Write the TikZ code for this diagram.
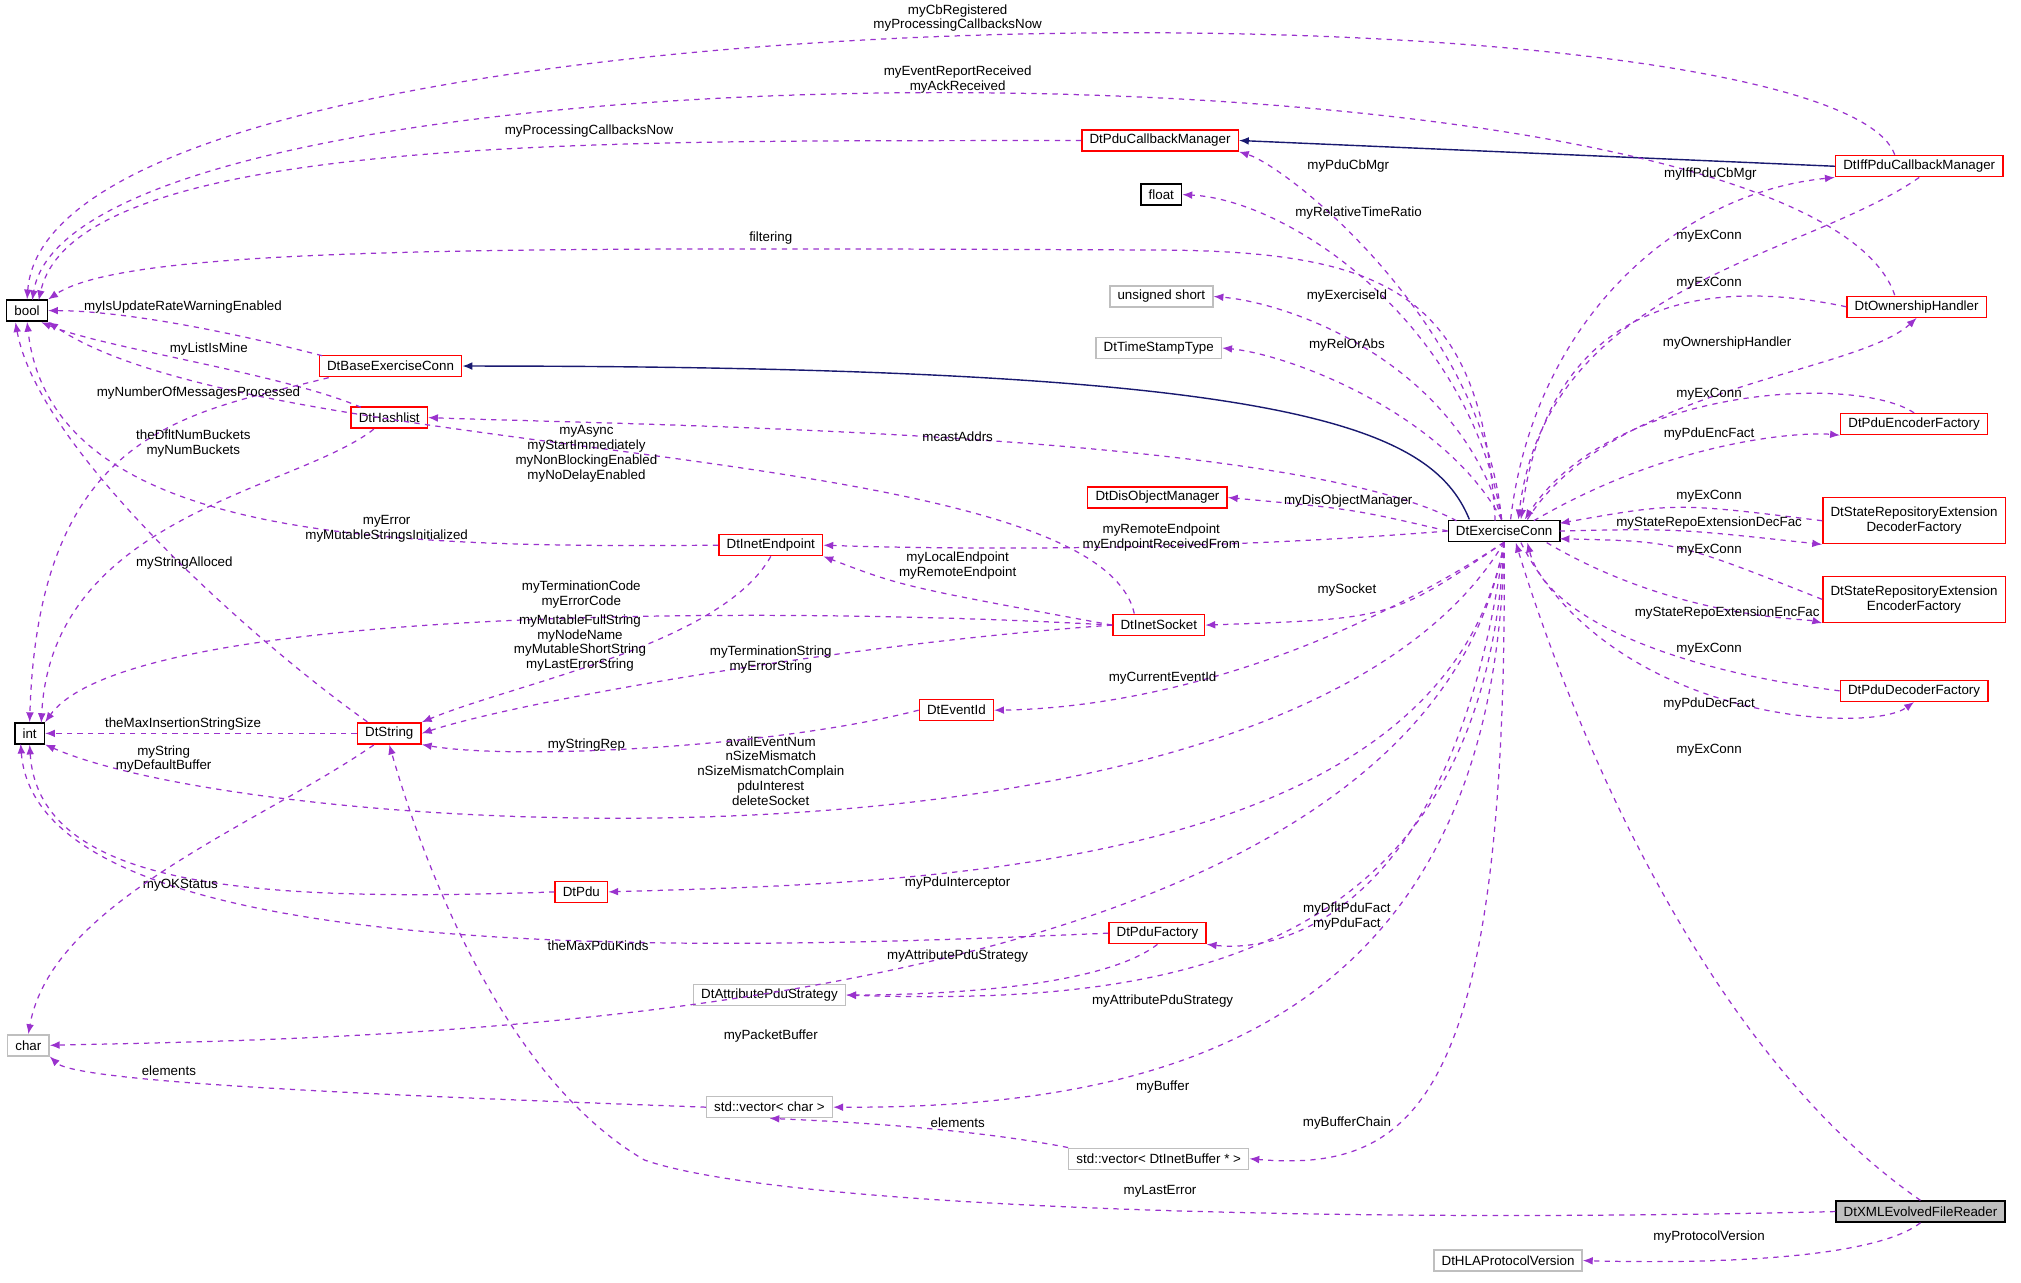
\documentclass[tikz,border=0pt]{standalone}
\usepackage{fontspec}
\setmainfont{Liberation Sans}
\usetikzlibrary{arrows.meta}
\definecolor{edgepurple}{HTML}{9A32CD}
\definecolor{inhnavy}{HTML}{191970}
\definecolor{boxgray}{HTML}{BFBFBF}
\definecolor{readerfill}{HTML}{BFBFBF}
\tikzset{
    % class boxes
    cls/.style={draw=red, fill=white, line width=0.4pt, inner xsep=2.2pt, inner ysep=0pt,
        minimum height=0.21cm, font=\fontsize{3.8}{4.4}\selectfont, align=center},
    cls black/.style={cls, draw=black},
    cls gray/.style={cls, draw=boxgray},
    % connectors
    use/.style={-{Latex[length=2.8pt,width=2.2pt]}, edgepurple, line width=0.35pt,
        dash pattern=on 1.5pt off 1.5pt},
    inherit/.style={-{Latex[length=2.8pt,width=2.2pt]}, inhnavy, line width=0.4pt},
    % edge labels
    lbl/.style={font=\fontsize{3.8}{4.2}\selectfont, align=center, inner sep=0pt},
}
\begin{document}
\begin{tikzpicture}[x=0.01289cm, y=-0.01289cm]
    \useasboundingbox (0,0) rectangle (1568,995);

    % Left column
    \node[cls black] (bool) at (21,241) {bool};
    \node[cls black] (int) at (23,569) {int};
    \node[cls gray] (char) at (22,811) {char};

    % Middle classes
    \node[cls] (pcm) at (900,109) {DtPduCallbackManager};
    \node[cls black] (float) at (901,151) {float};
    \node[cls gray] (ushort) at (901,230) {unsigned short};
    \node[cls gray] (tstamp) at (899,270) {DtTimeStampType};
    \node[cls] (dom) at (898,386) {DtDisObjectManager};
    \node[cls] (bec) at (303,284) {DtBaseExerciseConn};
    \node[cls] (hash) at (302,324) {DtHashlist};
    \node[cls] (endp) at (598,423) {DtInetEndpoint};
    \node[cls] (sock) at (899,485) {DtInetSocket};
    \node[cls] (str) at (302,569) {DtString};
    \node[cls] (evid) at (742,551) {DtEventId};
    \node[cls] (pdu) at (451,692) {DtPdu};
    \node[cls] (pfac) at (898,724) {DtPduFactory};
    \node[cls gray] (attr) at (597,772) {DtAttributePduStrategy};
    \node[cls gray] (vchar) at (597,859) {std::vector< char >};
    \node[cls gray] (vbuf) at (899,899) {std::vector< DtInetBuffer * >};
    \node[cls gray] (hla) at (1170,978) {DtHLAProtocolVersion};
    \node[cls black] (ec) at (1167,412) {DtExerciseConn};

    % Right column
    \node[cls] (iff) at (1489,129) {DtIffPduCallbackManager};
    \node[cls] (own) at (1487,238) {DtOwnershipHandler};
    \node[cls] (penc) at (1485,329) {DtPduEncoderFactory};
    \node[cls, minimum height=0.46cm] (srdec) at (1485,404) {DtStateRepositoryExtension\\DecoderFactory};
    \node[cls, minimum height=0.46cm] (srenc) at (1485,465) {DtStateRepositoryExtension\\EncoderFactory};
    \node[cls] (pdec) at (1485,536) {DtPduDecoderFactory};
    \node[cls black, fill=readerfill] (xml) at (1490,940) {DtXMLEvolvedFileReader};

    % Inheritance
    \draw[inherit] (iff.west) -- (pcm.east);
    \draw[inherit] (1140,403) .. controls (1110,330) and (1000,284) .. (bec.east);

    % Members of bool
    \draw[use] (1470,120) .. controls (1420,-20) and (40,-20) .. (bool.north);
    \draw[use] (1470,229) .. controls (1400,20) and (60,20) .. (25,233);
    \draw[use] (pcm.west) .. controls (500,110) and (60,100) .. (30,233);
    \draw[use] (1160,404) .. controls (1150,230) and (1080,195) .. (900,194)
        .. controls (400,192) and (100,190) .. (bool.north east);
    \draw[use] (250,276) .. controls (150,250) and (80,241) .. (bool.east);
    \draw[use] (280,316) .. controls (220,290) and (80,270) .. (32,250);
    \draw[use] (880,476) .. controls (850,340) and (200,360) .. (bool.south east);
    \draw[use] (endp.west) .. controls (300,425) and (40,420) .. (bool.south);
    \draw[use] (285,560) .. controls (200,500) and (30,350) .. (12,250);
    \node[lbl] at (743,14) {myCbRegistered\\myProcessingCallbacksNow};
    \node[lbl] at (743,62) {myEventReportReceived\\myAckReceived};
    \node[lbl] at (457,102) {myProcessingCallbacksNow};
    \node[lbl] at (598,185) {filtering};
    \node[lbl] at (142,238) {myIsUpdateRateWarningEnabled};
    \node[lbl] at (162,271) {myListIsMine};
    \node[lbl] at (455,352) {myAsync\\myStartImmediately\\myNonBlockingEnabled\\myNoDelayEnabled};
    \node[lbl] at (300,410) {myError\\myMutableStringsInitialized};
    \node[lbl] at (143,437) {myStringAlloced};

    % Members of int
    \draw[use] (255,293) .. controls (150,320) and (30,330) .. (int.north);
    \draw[use] (290,333) .. controls (230,380) and (40,400) .. (32,561);
    \draw[use] (sock.west) .. controls (600,470) and (100,470) .. (int.north east);
    \draw[use] (str.west) -- (int.east);
    \draw[use] (ec.south) .. controls (1000,700) and (200,650) .. (int.south east);
    \draw[use] (pdu.west) .. controls (200,700) and (30,690) .. (int.south);
    \draw[use] (pfac.west) .. controls (600,735) and (30,760) .. (16,577);
    \node[lbl] at (154,305) {myNumberOfMessagesProcessed};
    \node[lbl] at (150,344) {theDfltNumBuckets\\myNumBuckets};
    \node[lbl] at (451,461) {myTerminationCode\\myErrorCode};
    \node[lbl] at (142,562) {theMaxInsertionStringSize};
    \node[lbl] at (598,598) {availEventNum\\nSizeMismatch\\nSizeMismatchComplain\\pduInterest\\deleteSocket};
    \node[lbl] at (140,687) {myOKStatus};
    \node[lbl] at (464,734) {theMaxPduKinds};

    % Members of char
    \draw[use] (290,578) .. controls (200,640) and (40,700) .. (char.north);
    \draw[use] (ec.south) .. controls (1100,800) and (300,805) .. (char.east);
    \draw[use] (vchar.west) .. controls (300,850) and (60,840) .. (char.south east);
    \node[lbl] at (127,589) {myString\\myDefaultBuffer};
    \node[lbl] at (598,804) {myPacketBuffer};
    \node[lbl] at (131,831) {elements};

    % Members of DtString
    \draw[use] (endp.south) .. controls (560,500) and (400,530) .. (str.north east);
    \draw[use] (sock.west) .. controls (650,500) and (400,545) .. (str.east);
    \draw[use] (evid.west) .. controls (600,580) and (400,590) .. (str.south east);
    \draw[use] (xml.west) .. controls (1000,950) and (600,935) .. (500,900)
        .. controls (380,830) and (320,640) .. (str.south);
    \node[lbl] at (450,499) {myMutableFullString\\myNodeName\\myMutableShortString\\myLastErrorString};
    \node[lbl] at (598,512) {myTerminationString\\myErrorString};
    \node[lbl] at (455,578) {myStringRep};
    \node[lbl] at (900,924) {myLastError};

    % Members of DtExerciseConn and others
    \draw[use] (sock.west) .. controls (700,455) .. (endp.south east);
    \draw[use] (ec.west) .. controls (900,430) and (700,425) .. (endp.east);
    \draw[use] (1130,404) .. controls (1000,335) and (500,330) .. (hash.east);
    \draw[use] (1165,403) .. controls (1150,250) and (1000,130) .. (pcm.south east);
    \draw[use] (1165,403) .. controls (1140,250) and (1000,155) .. (float.east);
    \draw[use] (1165,403) .. controls (1130,280) and (1000,235) .. (ushort.east);
    \draw[use] (1165,403) .. controls (1120,320) and (1000,275) .. (tstamp.east);
    \draw[use] (ec.west) .. controls (1050,395) .. (dom.east);
    \draw[use] (ec.south) .. controls (1080,480) .. (sock.east);
    \draw[use] (ec.south) .. controls (1000,530) and (850,550) .. (evid.east);
    \draw[use] (ec.south) .. controls (1120,680) and (700,685) .. (pdu.east);
    \draw[use] (ec.south) .. controls (1130,700) and (1000,740) .. (pfac.south east);
    \draw[use] (pfac.south) .. controls (850,770) and (700,772) .. (attr.east);
    \draw[use] (ec.south) .. controls (1150,750) and (900,780) .. (attr.east);
    \draw[use] (ec.south) .. controls (1160,800) and (900,860) .. (vchar.east);
    \draw[use] (ec.south) .. controls (1170,850) and (1100,910) .. (vbuf.east);
    \draw[use] (vbuf.north west) .. controls (750,875) and (650,870) .. (vchar.south);
    \node[lbl] at (743,439) {myLocalEndpoint\\myRemoteEndpoint};
    \node[lbl] at (901,417) {myRemoteEndpoint\\myEndpointReceivedFrom};
    \node[lbl] at (743,339) {mcastAddrs};
    \node[lbl] at (1046,129) {myPduCbMgr};
    \node[lbl] at (1054,165) {myRelativeTimeRatio};
    \node[lbl] at (1045,230) {myExerciseId};
    \node[lbl] at (1045,268) {myRelOrAbs};
    \node[lbl] at (1046,389) {myDisObjectManager};
    \node[lbl] at (1045,458) {mySocket};
    \node[lbl] at (902,526) {myCurrentEventId};
    \node[lbl] at (743,685) {myPduInterceptor};
    \node[lbl] at (1045,711) {myDfltPduFact\\myPduFact};
    \node[lbl] at (743,742) {myAttributePduStrategy};
    \node[lbl] at (902,777) {myAttributePduStrategy};
    \node[lbl] at (902,843) {myBuffer};
    \node[lbl] at (1045,871) {myBufferChain};
    \node[lbl] at (743,871) {elements};

    % Right column links
    \draw[use] (1172,403) .. controls (1190,250) and (1300,150) .. (iff.south west);
    \draw[use] (iff.south) .. controls (1400,200) and (1200,220) .. (1178,403);
    \draw[use] (own.west) .. controls (1300,210) and (1200,250) .. (1180,403);
    \draw[use] (1185,403) .. controls (1250,300) and (1440,290) .. (own.south);
    \draw[use] (penc.north) .. controls (1440,290) and (1250,300) .. (1183,403);
    \draw[use] (1190,404) .. controls (1300,340) and (1400,335) .. (penc.south west);
    \draw[use] (srdec.west) .. controls (1300,390) .. (1210,406);
    \draw[use] (1210,412) .. controls (1300,410) .. (srdec.south west);
    \draw[use] (srenc.west) .. controls (1300,420) .. (1210,418);
    \draw[use] (1200,421) .. controls (1300,480) and (1400,480) .. (srenc.south west);
    \draw[use] (pdec.west) .. controls (1300,520) and (1200,480) .. (1185,421);
    \draw[use] (1180,421) .. controls (1250,560) and (1450,570) .. (pdec.south);
    \draw[use] (xml.north) .. controls (1300,800) and (1200,500) .. (1176,421);
    \draw[use] (xml.south) .. controls (1450,980) and (1300,980) .. (hla.east);
    \node[lbl] at (1327,135) {myIffPduCbMgr};
    \node[lbl] at (1326,183) {myExConn};
    \node[lbl] at (1326,220) {myExConn};
    \node[lbl] at (1340,266) {myOwnershipHandler};
    \node[lbl] at (1326,306) {myExConn};
    \node[lbl] at (1326,337) {myPduEncFact};
    \node[lbl] at (1326,385) {myExConn};
    \node[lbl] at (1326,406) {myStateRepoExtensionDecFac};
    \node[lbl] at (1326,427) {myExConn};
    \node[lbl] at (1340,476) {myStateRepoExtensionEncFac};
    \node[lbl] at (1326,504) {myExConn};
    \node[lbl] at (1326,546) {myPduDecFact};
    \node[lbl] at (1326,582) {myExConn};
    \node[lbl] at (1326,960) {myProtocolVersion};
\end{tikzpicture}
\end{document}
